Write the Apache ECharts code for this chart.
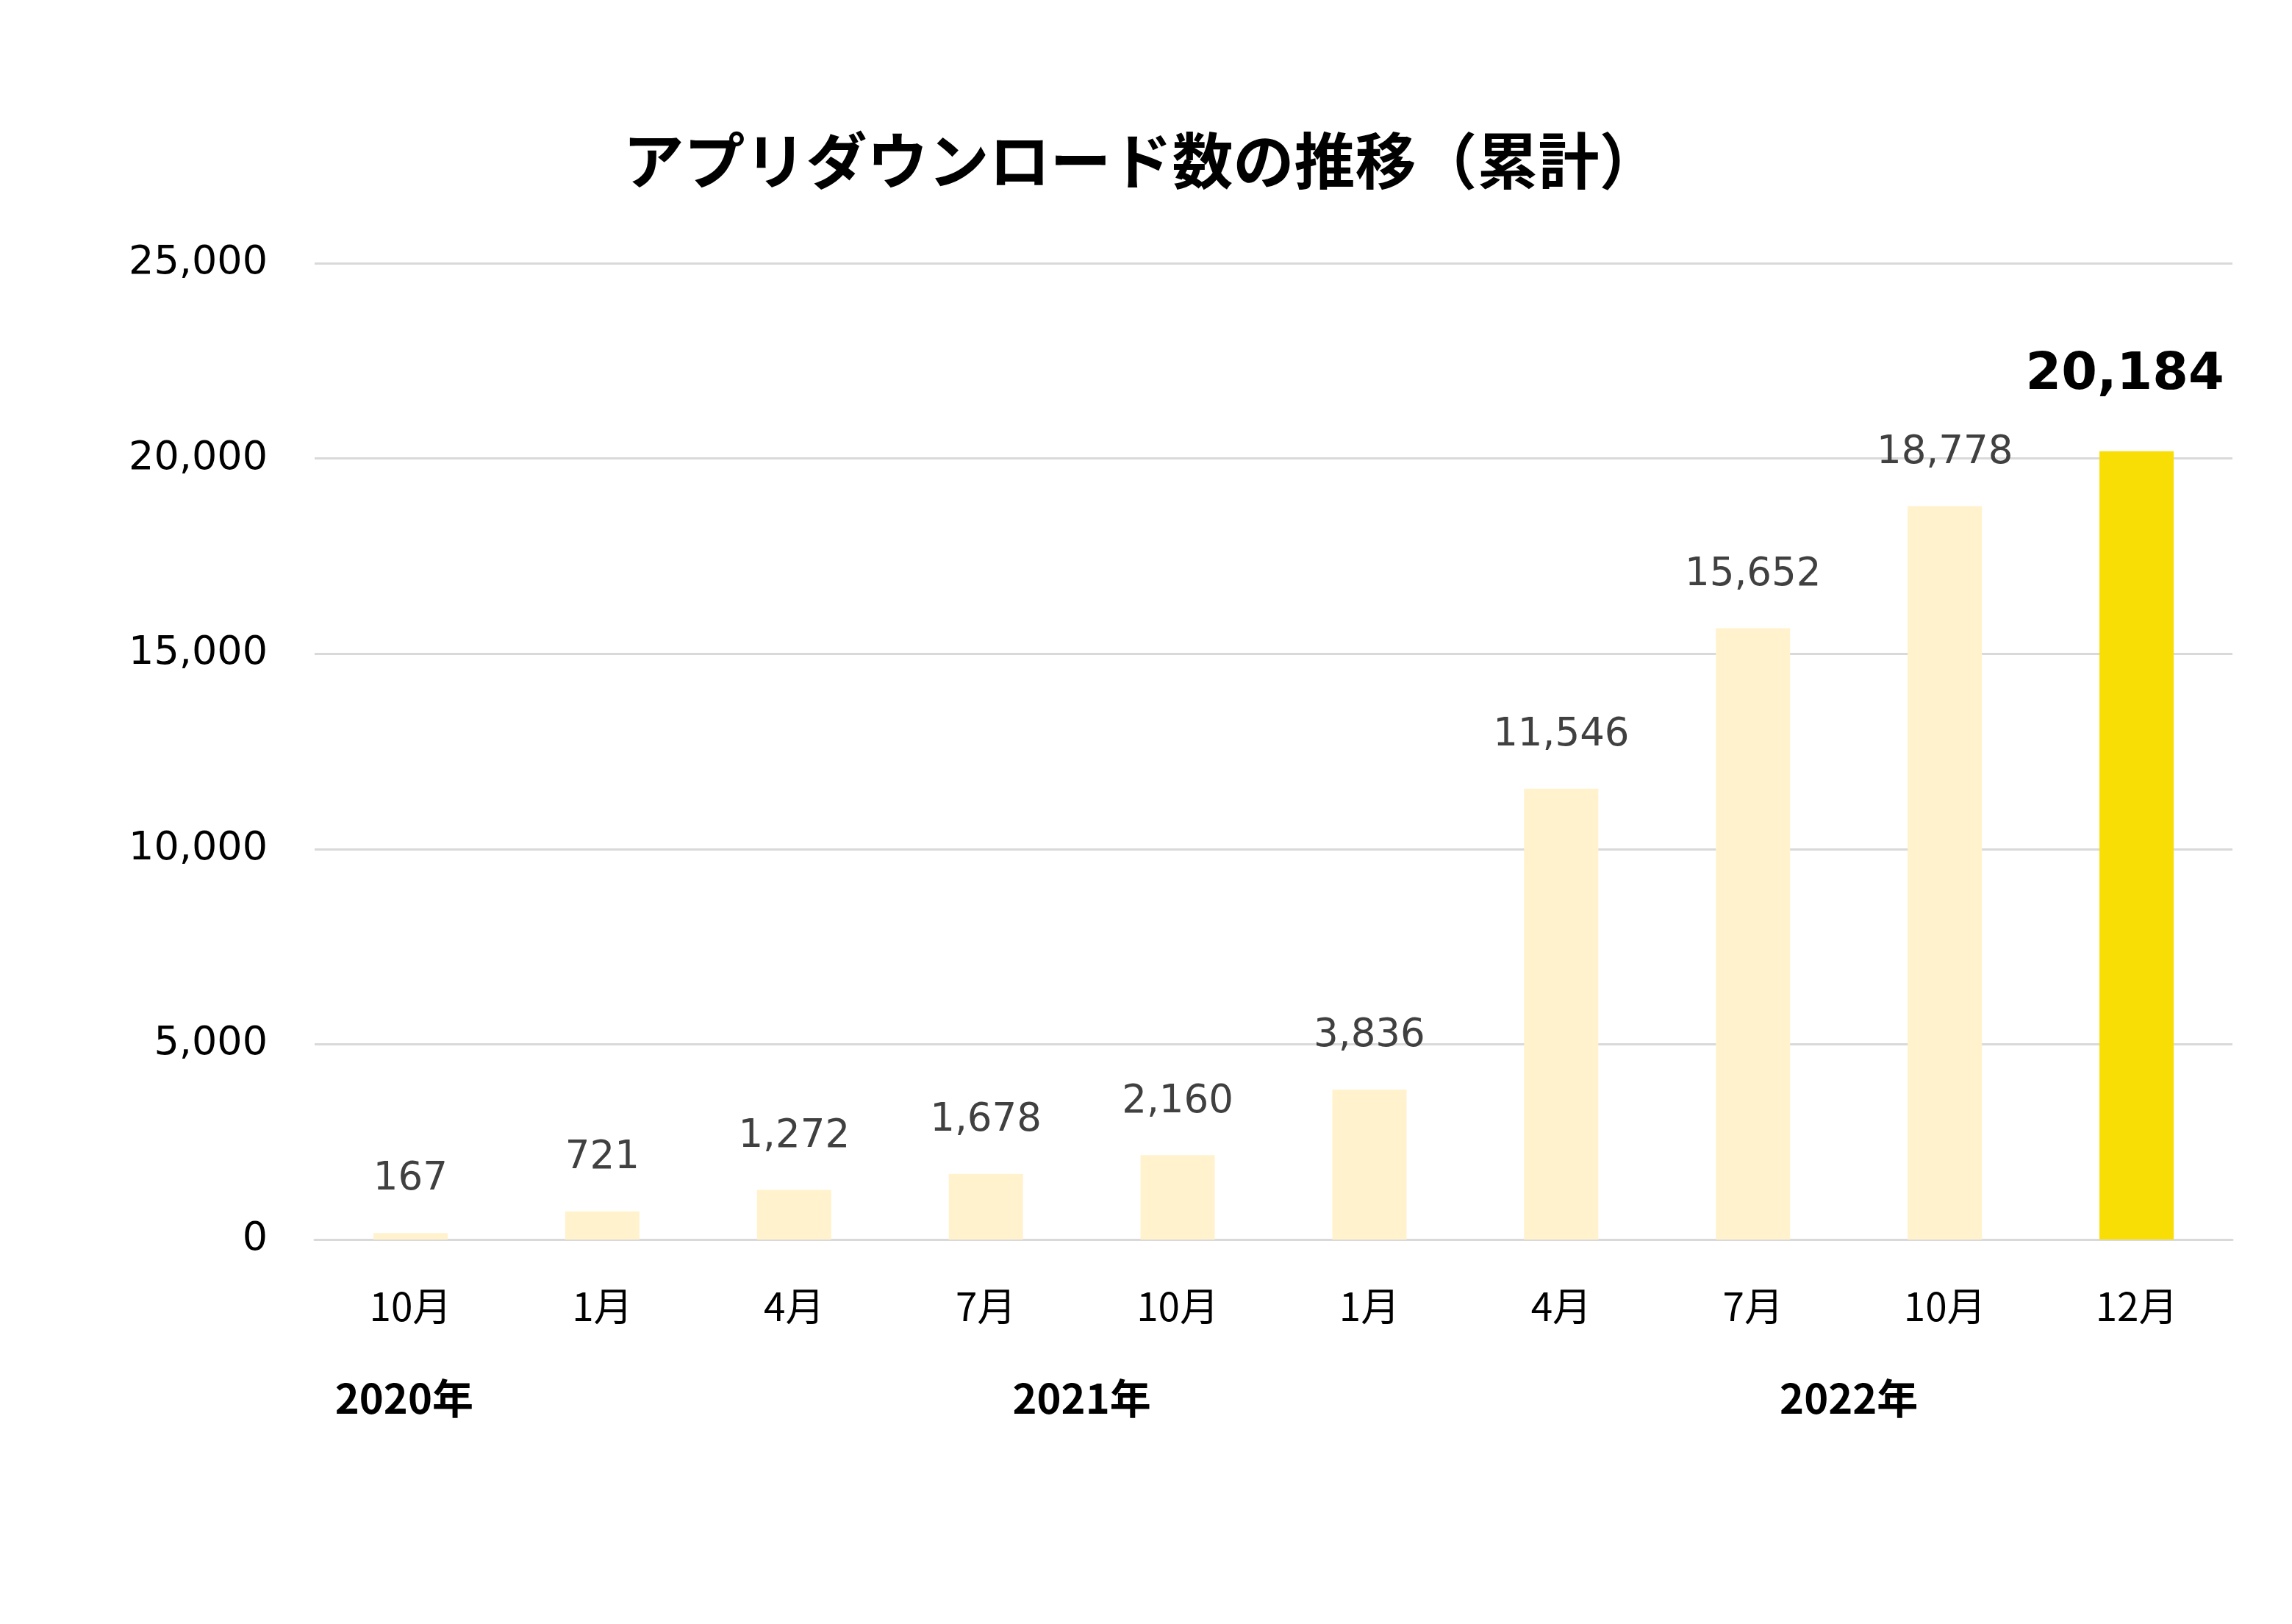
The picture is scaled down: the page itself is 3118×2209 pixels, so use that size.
<!DOCTYPE html>
<html>
<head>
<meta charset="utf-8">
<script src="https://cdn.jsdelivr.net/npm/echarts@6/dist/echarts.min.js"></script>
<style>
html,body{margin:0;padding:0;background:#fff;}
#c{width:3118px;height:2209px;}
</style>
</head>
<body>
<div id="c"></div>
<script>
const titleText = 'アプリダウンロード数の推移（累計）';
const categories = ['10月','1月','4月','7月','10月','1月','4月','7月','10月','12月'];
const downloads = [167, 721, 1272, 1678, 2160, 3836, 11546, 15652, 18778, 20184];
const yearLabels = ['2020年','2021年','2022年'];
const yearPositions = [0.467, 4.0, 8.0]; // position along category band (in band units)
const yTicks = [0, 5000, 10000, 15000, 20000, 25000];

const chart = echarts.init(document.getElementById('c'));
const lastIdx = downloads.length - 1;
const gridLeft = 428, gridRight = 81, gridTop = 358, gridBottom = 523;
const W = 3118;
const bandW = (W - gridLeft - gridRight) / categories.length;

const fmt = v => v.toLocaleString('en-US');

chart.setOption({
  animation: false,
  backgroundColor: '#ffffff',
  title: {
    text: titleText,
    left: 1548,
    textAlign: 'center',
    top: 172,
    textStyle: {fontFamily: 'Noto Sans CJK JP', fontWeight: 'bold', fontSize: 83, color: '#000'}
  },
  grid: {left: gridLeft, right: gridRight, top: gridTop, bottom: gridBottom, containLabel: false},
  xAxis: {
    type: 'category',
    data: categories,
    axisLine: {show: true, lineStyle: {color: '#d9d9d9', width: 3}},
    axisTick: {show: false},
    axisLabel: {fontFamily: 'Noto Sans CJK JP', fontSize: 53, color: '#000', margin: 64}
  },
  yAxis: {
    type: 'value',
    min: yTicks[0],
    max: yTicks[yTicks.length - 1],
    interval: 5000,
    axisLine: {show: false},
    axisTick: {show: false},
    splitLine: {lineStyle: {color: '#d9d9d9', width: 3}},
    axisLabel: {fontFamily: 'DejaVu Sans', fontSize: 54, color: '#000', margin: 64, formatter: v => fmt(v)}
  },
  series: [{
    type: 'bar',
    barWidth: 101,
    data: downloads.map((v, i) => {
      const last = i === lastIdx;
      return {
        value: v,
        itemStyle: {color: last ? '#F9DE06' : '#FFF2CC'},
        label: last ? {
          show: true, position: 'top', distance: 68, offset: [-16, 0],
          fontFamily: 'DejaVu Sans', fontWeight: 'bold', fontSize: 70, color: '#000',
          formatter: p => fmt(p.value)
        } : {
          show: true, position: 'top', distance: 46,
          fontFamily: 'DejaVu Sans', fontSize: 53, color: '#404040',
          formatter: p => fmt(p.value)
        }
      };
    })
  }],
  graphic: yearLabels.map((t, i) => ({
    type: 'text',
    x: gridLeft + yearPositions[i] * bandW,
    y: 1902,
    style: {text: t, align: 'center', verticalAlign: 'middle', fontFamily: 'Noto Sans CJK JP', fontWeight: 'bold', fontSize: 56, fill: '#000'}
  }))
});
</script>
</body>
</html>
